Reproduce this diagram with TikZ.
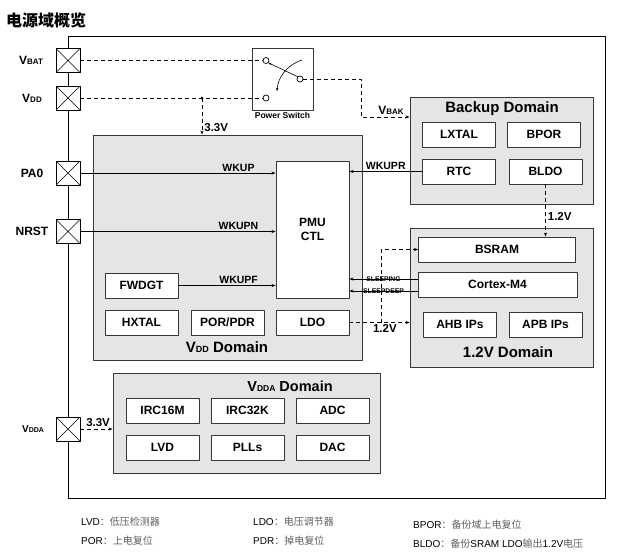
\documentclass[tikz,border=0pt]{standalone}
\usepackage{fontspec}
\setmainfont{Liberation Sans}
\newfontfamily\cjk{Noto Sans CJK SC}
\usetikzlibrary{arrows.meta}
\definecolor{domgray}{RGB}{229,229,229}
\definecolor{edge}{RGB}{55,55,55}
\definecolor{notegray}{RGB}{95,95,95}
\newcommand{\fs}[1]{\fontsize{#1}{#1}\selectfont}
\newcommand{\lowtxt}[1]{{\fs{8}#1}}
\tikzset{
	dom/.style={draw=edge, fill=domgray, line width=0.9pt, inner sep=0pt},
	blk/.style={draw=edge, fill=white, line width=0.9pt, inner sep=0pt, minimum width=73, minimum height=25, font=\bfseries\fs{12}},
	pad/.style={draw, fill=white, line width=0.8pt, minimum size=24, inner sep=0pt,
		path picture={\draw[line width=0.6pt] (path picture bounding box.south west)--(path picture bounding box.north east)
			(path picture bounding box.north west)--(path picture bounding box.south east);}},
	term/.style={circle, draw, fill=white, line width=0.7pt, minimum size=6, inner sep=0pt},
	pin/.style={font=\bfseries\fs{12}},
	sig/.style={font=\bfseries\fs{10.5}, inner sep=1.5pt},
	volt/.style={font=\bfseries\fs{11.5}, inner sep=2pt},
	domtitle/.style={font=\bfseries\fs{15}},
	note/.style={anchor=west, inner sep=0pt, font=\fs{10}},
	pwr/.style={dash pattern=on 4pt off 3pt, line width=0.8pt, ->},
}
\begin{document}
\begin{tikzpicture}[x=1pt, y=-1pt, >={Stealth[length=4pt,width=3pt]}, line join=round]
	\useasboundingbox (0,0) rectangle (635,557);
	\node[anchor=west, inner sep=0pt, font=\cjk\bfseries\fs{16}] (title) at (6,20) {电源域概览};
	\draw[line width=0.8pt] (68,36) rectangle (605,498);
	% domains
	\node[dom, minimum width=61, minimum height=62, fill=white] (psw) at (282.5,79) {};
	\node[below, inner sep=2pt, font=\bfseries\fs{8.5}] at (psw.south) {Power Switch};
	\node[dom, minimum width=183, minimum height=107] (bak) at (501.5,150.5) {};
	\node[dom, minimum width=269, minimum height=225] (vddd) at (227.5,247.5) {};
	\node[dom, minimum width=183, minimum height=139] (d12) at (501.5,297.5) {};
	\node[dom, minimum width=267, minimum height=100] (vddad) at (246.5,423) {};
	\node[domtitle] at (502,109) {Backup Domain};
	\node[domtitle] at (227,347) {V{\fs{9}DD} Domain};
	\node[domtitle] at (508,352) {1.2V Domain};
	\node[domtitle, font=\bfseries\fs{14.5}] at (290,386) {V{\fs{8.5}DDA} Domain};
	% blocks
	\foreach \n/\t/\x/\y in {lxtal/LXTAL/459/134.5, bpor/BPOR/544/134.5, rtc/RTC/459/171.5, bldo/BLDO/545.5/171.5,
		fwdgt/FWDGT/141.5/285.5, hxtal/HXTAL/141.5/322.5, ldo/LDO/312.5/322.5,
		ahb/AHB IPs/460/324.5, apb/APB IPs/545.5/324.5,
		irca/IRC16M/162.5/410.5, ircb/IRC32K/247.5/410.5, adc/ADC/332.5/410.5,
		lvd/LVD/162.5/447.5, plls/PLLs/247.5/447.5, dac/DAC/332.5/447.5}
	\node[blk] (\n) at (\x,\y) {\t};
	\node[blk] (porpdr) at (227.5,322.5) {POR/PDR};
	\node[blk, minimum height=137, align=center] (pmu) at (312.5,229.5) {PMU\\[2pt]CTL};
	\node[blk, minimum width=157] (bsram) at (497,249.5) {BSRAM};
	\node[blk, minimum width=159] (cortex) at (497.5,284.5) {Cortex-M4};
	% pads
	\foreach \n/\y in {pbat/60.5, pvdd/98, ppa/173, prst/231.5, pvdda/429}
	\node[pad] (\n) at (68,\y) {};
	\node[pin] (lbat) at (31,60.5) {V\lowtxt{BAT}};
	\node[pin] (lvdd) at (32,98) {V\lowtxt{DD}};
	\node[pin] (lpa) at (32,173) {PA0};
	\node[pin] (lrst) at (32,231.5) {NRST};
	\node[pin, font=\bfseries\fs{10}] (lvdda) at (33,429) {V{\fs{7}DDA}};
	% power switch
	\node[term] (swa) at (266,60.5) {};
	\node[term] (swb) at (266,98) {};
	\node[term] (swc) at (300,79) {};
	\draw[line width=0.6pt, -{Stealth[length=3pt,width=2.5pt]}] (swc.north west) -- (swa.south east);
	\draw[line width=0.6pt, -{Stealth[length=3pt,width=2.5pt]}] (302,60) .. controls (287,65) and (278,77) .. (277,91);
	% supplies
	\draw[pwr, -] (pbat.east) -- (swa.west);
	\draw[pwr, -] (pvdd.east) -- (swb.west);
	\coordinate (j33) at (202,98);
	\fill (j33) circle (1.5pt);
	\draw[pwr] (j33) -- (j33 |- vddd.north) node[volt, right, pos=.8] {3.3V};
	\draw[pwr] (swc.east) -| (361,117) -- (bak.west |- 361,117);
	\node[pin] (lbak) at (391,110) {V\lowtxt{BAK}};
	\draw[pwr] (ldo.east) -- (ldo.east -| d12.west) node[volt, below, pos=.59] {1.2V};
	\coordinate (br12) at (381,322.5);
	\draw[pwr] (br12) |- (bsram.west);
	\draw[pwr] (bldo.south) -- (bldo.south |- bsram.north) node[volt, right, pos=.62] {1.2V};
	\draw[pwr] (pvdda.east) -- (pvdda.east -| vddad.west) node[volt, above, pos=.55] {3.3V};
	% wake-up and sleep signals
	\draw[->, line width=0.6pt] (ppa.east) -- (ppa.east -| pmu.west) node[sig, above, pos=.81] {WKUP};
	\draw[->, line width=0.6pt] (prst.east) -- (prst.east -| pmu.west) node[sig, above, pos=.81] {WKUPN};
	\draw[->, line width=0.6pt] (fwdgt.east) -- (fwdgt.east -| pmu.west) node[sig, above, pos=.62] {WKUPF};
	\draw[->, line width=0.6pt] (rtc.west) -- (rtc.west -| pmu.east) node[sig, above, midway] {WKUPR};
	\draw[->, line width=0.6pt] ([yshift=5.5pt]cortex.west) -- ([yshift=5.5pt]cortex.west -| pmu.east)
		node[midway, inner sep=0pt, font=\bfseries\fs{6.8}] {SLEEPING};
	\draw[->, line width=0.6pt] ([yshift=-6.5pt]cortex.west) -- ([yshift=-6.5pt]cortex.west -| pmu.east)
		node[midway, inner sep=0pt, font=\bfseries\fs{6.8}] {SLEEPDEEP};
	% notes
	\node[note] (nlvd) at (81,522) {LVD{\cjk\color{notegray}：低压检测器}};
	\node[note] (npor) at (81,541) {POR{\cjk\color{notegray}：上电复位}};
	\node[note] (nldo) at (253,522) {LDO{\cjk\color{notegray}：电压调节器}};
	\node[note] (npdr) at (253,541) {PDR{\cjk\color{notegray}：掉电复位}};
	\node[note] (nbpor) at (413,525) {BPOR{\cjk\color{notegray}：备份域上电复位}};
	\node[note] (nbldo) at (413,544) {BLDO{\cjk\color{notegray}：备份}SRAM LDO{\cjk\color{notegray}输出}1.2V{\cjk\color{notegray}电压}};
\end{tikzpicture}
\end{document}
